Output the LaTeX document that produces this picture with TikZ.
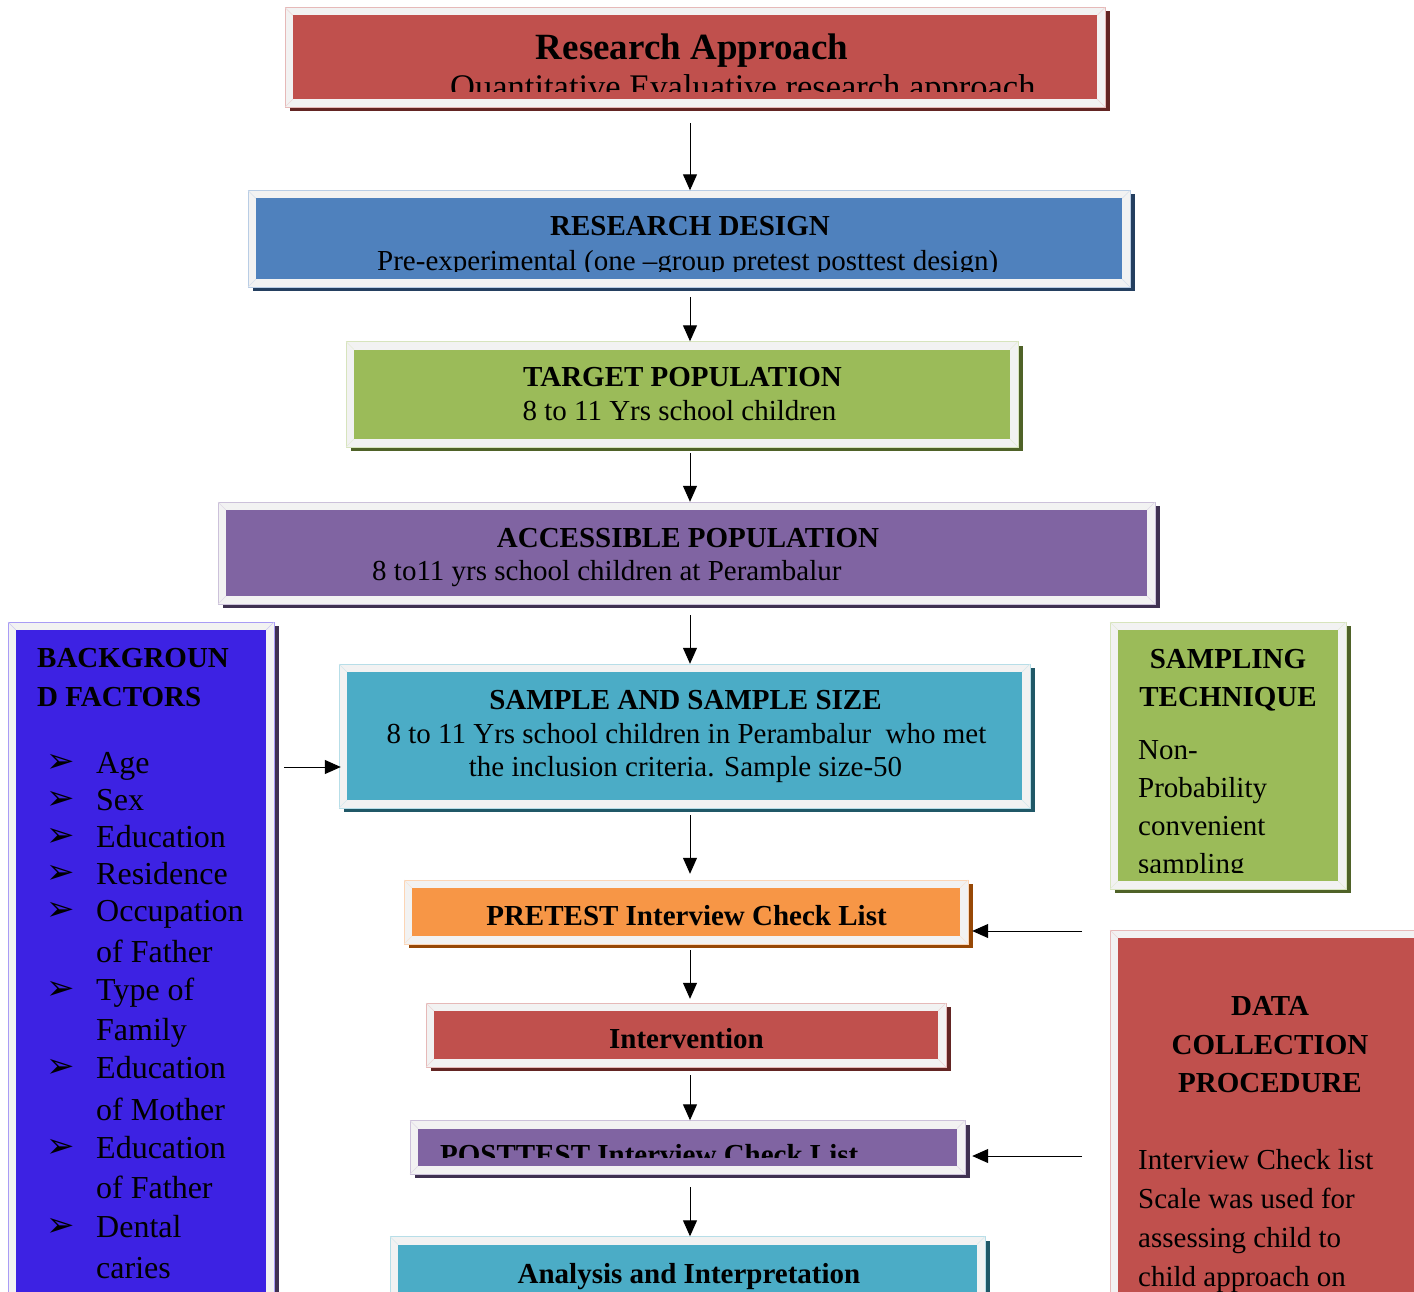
\documentclass[tikz,border=0pt]{standalone}
\usepackage{fontspec}
\setmainfont{Liberation Serif}
\newfontfamily\dejavu{DejaVu Sans}
\usetikzlibrary{arrows.meta,fit}

\definecolor{framegray}{HTML}{F2F2F2}
\definecolor{cred}{HTML}{C0504D}\definecolor{credsh}{HTML}{632523}\definecolor{credln}{HTML}{E6B9B8}
\definecolor{cblue}{HTML}{4F81BD}\definecolor{cbluesh}{HTML}{243F60}\definecolor{cblueln}{HTML}{B9CDE5}
\definecolor{cgreen}{HTML}{9BBB59}\definecolor{cgreensh}{HTML}{4F6228}\definecolor{cgreenln}{HTML}{D7E4BD}
\definecolor{cpurple}{HTML}{8064A2}\definecolor{cpurplesh}{HTML}{3F3151}\definecolor{cpurpleln}{HTML}{CCC1DA}
\definecolor{cteal}{HTML}{4BACC6}\definecolor{ctealsh}{HTML}{205867}\definecolor{ctealln}{HTML}{B7DEE8}
\definecolor{corange}{HTML}{F79646}\definecolor{corangesh}{HTML}{974806}\definecolor{corangeln}{HTML}{FCD5B5}
\definecolor{cviolet}{HTML}{3D22E3}\definecolor{cvioletsh}{HTML}{3F3151}\definecolor{cvioletln}{HTML}{A99CF5}

\tikzset{
  arr/.style={-{Triangle[width=14pt,length=16pt]}, line width=1pt, black},
  hd/.style={font=\fontsize{29}{34}\selectfont\bfseries, inner sep=0pt, anchor=base},
  bd/.style={font=\fontsize{29}{34}\selectfont, inner sep=0pt, anchor=base},
  bdl/.style={bd, anchor=base west},
  hdl/.style={hd, anchor=base west},
  itm/.style={font=\fontsize{32}{36}\selectfont, inner sep=0pt, anchor=base west},
  bul/.style={font=\dejavu\fontsize{34}{36}\selectfont, inner sep=0pt, anchor=center},
  bevel/.style={line width=0.5pt, draw=#1!50!framegray}
}

% name, x1, y1, x2, y2, fill, shadow, outline
\newcommand\flowbox[8]{%
  \fill[#7] (#2+4.5,#3+4) rectangle (#4+4.5,#5+4);
  \filldraw[fill=framegray, draw=#8, line width=0.8pt] (#2,#3) rectangle (#4,#5);
  \draw[bevel=#8] (#2,#3) -- (#2+8,#3+8) (#4,#3) -- (#4-8,#3+8)
                  (#2,#5) -- (#2+8,#5-8) (#4,#5) -- (#4-8,#5-8);
  \fill[#6] (#2+8,#3+8) rectangle (#4-8,#5-8);
  \node[fit={(#2,#3) (#4,#5)}, inner sep=0pt] (#1) {};
}

\begin{document}
\begin{tikzpicture}[x=1pt,y=-1pt]
\useasboundingbox (0,0) rectangle (1414,1292);
\clip (0,0) rectangle (1414,1292);
\fill[white] (0,0) rectangle (1414,1292);

% boxes
\flowbox{ra}{285}{7.5}{1105}{107}{cred}{credsh}{credln}
\flowbox{rd}{248}{190.5}{1130}{287}{cblue}{cbluesh}{cblueln}
\flowbox{tp}{346}{341.5}{1018}{447}{cgreen}{cgreensh}{cgreenln}
\flowbox{ap}{218}{502}{1155}{604}{cpurple}{cpurplesh}{cpurpleln}
\flowbox{ss}{339}{664}{1030}{808}{cteal}{ctealsh}{ctealln}
\flowbox{pre}{404}{880}{968}{944}{corange}{corangesh}{corangeln}
\flowbox{int}{426}{1003}{946}{1067}{cred}{credsh}{credln}
\flowbox{post}{410}{1120.5}{965}{1174}{cpurple}{cpurplesh}{cpurpleln}
\flowbox{an}{390}{1236.5}{985}{1330}{cteal}{ctealsh}{ctealln}
\flowbox{bg}{8}{622}{274}{1330}{cviolet}{cvioletsh}{cvioletln}
\flowbox{samp}{1110}{622}{1346}{889}{cgreen}{cgreensh}{cgreenln}
\flowbox{dc}{1110}{930}{1440}{1330}{cred}{credsh}{credln}

% texts: research approach
\node[hd, font=\fontsize{37}{42}\selectfont\bfseries] (t1) at (692,60) {Research Approach};
\begin{scope}
\clip (293,15) rectangle (1097,91.5);
\node[bdl, font=\fontsize{34.5}{40}\selectfont] (t2) at (450,99) {Quantitative Evaluative research approach};
\end{scope}

% research design
\node[hd] (t3) at (690,236) {RESEARCH DESIGN};
\begin{scope}
\clip (256,199) rectangle (1122,272);
\node[bdl] (t4) at (377,270) {Pre-experimental (one \textendash group pretest posttest design)};
\end{scope}

% target population
\node[hd] (t5) at (682.5,386) {TARGET POPULATION};
\node[bd] (t6) at (679.5,420) {8 to 11 Yrs school children};

% accessible population
\node[hd] (t7) at (688,547) {ACCESSIBLE POPULATION};
\node[bdl] (t8) at (372,580) {8 to11 yrs school children at Perambalur};

% sample
\node[hd] (t9) at (685.5,709) {SAMPLE AND SAMPLE SIZE};
\node[bd] (t10) at (686.5,743) {8 to 11 Yrs school children in Perambalur\ \ who met};
\node[bd] (t11) at (685.5,776) {the inclusion criteria. Sample size-50};

% pretest / intervention / posttest / analysis
\node[hd] (t12) at (686.5,925) {PRETEST Interview Check List};
\node[hd] (t13) at (686.5,1048) {Intervention};
\begin{scope}
\clip (418,1128) rectangle (957,1157);
\node[hdl] (t14) at (440,1164) {POSTTEST Interview Check List};
\end{scope}
\node[hd] (t15) at (689,1283) {Analysis and Interpretation};

% background factors
\node[hdl] (b1) at (37,667) {BACKGROUN};
\node[hdl] (b2) at (37,706) {D FACTORS};
\node[bul] (u1) at (61,763) {➢};
\node[itm] (i1) at (96,773) {Age};
\node[bul] (u2) at (61,800) {➢};
\node[itm] (i2) at (96,810) {Sex};
\node[bul] (u3) at (61,837) {➢};
\node[itm] (i3) at (96,847) {Education};
\node[bul] (u4) at (61,874) {➢};
\node[itm] (i4) at (96,884) {Residence};
\node[bul] (u5) at (61,911) {➢};
\node[itm] (i5) at (96,921) {Occupation};
\node[itm] (i6) at (96,962) {of Father};
\node[bul] (u6) at (61,990) {➢};
\node[itm] (i7) at (96,1000) {Type of};
\node[itm] (i8) at (96,1040) {Family};
\node[bul] (u7) at (61,1068) {➢};
\node[itm] (i9) at (96,1078) {Education};
\node[itm] (i10) at (96,1120) {of Mother};
\node[bul] (u8) at (61,1148) {➢};
\node[itm] (i11) at (96,1158) {Education};
\node[itm] (i12) at (96,1198) {of Father};
\node[bul] (u9) at (61,1227) {➢};
\node[itm] (i13) at (96,1237) {Dental};
\node[itm] (i14) at (96,1278) {caries};

% sampling technique
\node[hd] (s1) at (1228,668) {SAMPLING};
\node[hd] (s2) at (1228,706) {TECHNIQUE};
\node[bdl] (s3) at (1138,759) {Non-};
\node[bdl] (s4) at (1138,797) {Probability};
\node[bdl] (s5) at (1138,835) {convenient};
\begin{scope}
\clip (1118,840) rectangle (1338,872);
\node[bdl] (s6) at (1138,873) {sampling};
\end{scope}

% data collection
\node[hd] (d1) at (1270,1015) {DATA};
\node[hd] (d2) at (1270,1054) {COLLECTION};
\node[hd] (d3) at (1270,1092) {PROCEDURE};
\node[bdl] (d4) at (1138,1169) {Interview Check list};
\node[bdl] (d5) at (1138,1208) {Scale was used for};
\node[bdl] (d6) at (1138,1247) {assessing child to};
\node[bdl] (d7) at (1138,1286) {child approach on};

% connectors
\coordinate (sx) at (690,0);
\draw[arr, shorten <=16pt] (sx |- ra.south) -- (sx |- rd.north);
\draw[arr, shorten <=10pt] (sx |- rd.south) -- (sx |- tp.north);
\draw[arr, shorten <=6pt] (sx |- tp.south) -- (sx |- ap.north);
\draw[arr, shorten <=11pt] (sx |- ap.south) -- (sx |- ss.north);
\draw[arr, shorten <=7pt, shorten >=6pt] (sx |- ss.south) -- (sx |- pre.north);
\draw[arr, shorten <=6pt, shorten >=4pt] (sx |- pre.south) -- (sx |- int.north);
\draw[arr, shorten <=8pt] (sx |- int.south) -- (sx |- post.north);
\draw[arr, shorten <=13pt] (sx |- post.south) -- (sx |- an.north);

\coordinate (lk) at (0,767);
\draw[arr, shorten <=10pt, shorten >=-2pt] (bg.east |- lk) -- (ss.west |- lk);
\coordinate (p1) at (1082,931);
\draw[arr, shorten >=4pt] (p1) -- (pre.east |- p1);
\coordinate (p2) at (1082,1156);
\draw[arr, shorten >=7pt] (p2) -- (post.east |- p2);
\end{tikzpicture}
\end{document}
